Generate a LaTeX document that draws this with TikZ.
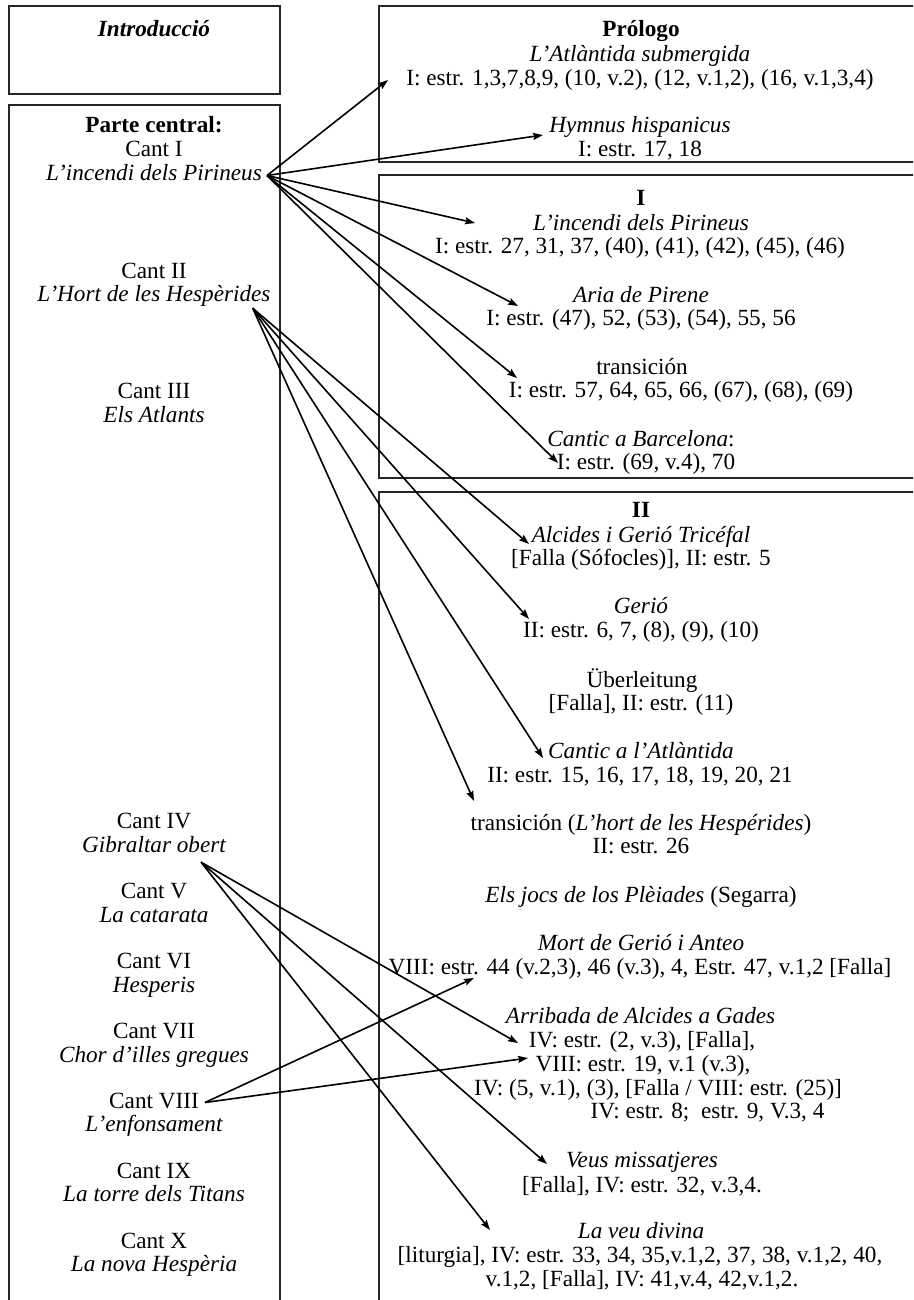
\documentclass[tikz,border=0pt]{standalone}
\usepackage{fontspec}
\setmainfont{Liberation Serif}
\usetikzlibrary{arrows.meta}
\tikzset{
  txt/.style={font=\fontsize{23.2}{24}\selectfont, inner sep=0pt, text height=16pt, text depth=5pt, anchor=base},
  itx/.style={txt, font=\fontsize{23.2}{24}\selectfont\itshape},
  bfx/.style={txt, font=\fontsize{23.2}{24}\selectfont\bfseries},
  bix/.style={txt, font=\fontsize{23.2}{24}\selectfont\bfseries\itshape},
  frame/.style={draw=black!85, line width=1.7pt, inner sep=0pt},
  arr/.style={-{Stealth[length=10pt,width=7pt,inset=1.5pt]}, line width=1.6pt, black}
}
\begin{document}
\begin{tikzpicture}[x=1pt,y=-1pt]
\useasboundingbox (0,0) rectangle (913,1300);
\clip (0,0) rectangle (913,1300);
\fill[white] (0,0) rectangle (913,1300);
% frames
\node[frame, minimum width=271pt, minimum height=88pt] (fintro) at (144.5,50) {};
\node[frame, minimum width=271pt, minimum height=1215pt] (fcentral) at (144.5,712.5) {};
\node[frame, minimum width=551pt, minimum height=156pt] (fprol) at (654.5,84) {};
\node[frame, minimum width=551pt, minimum height=303pt] (fI) at (654.5,326.5) {};
\node[frame, minimum width=551pt, minimum height=828pt] (fII) at (654.5,906) {};
% left column
\node[bix] (intro) at (154,37) {Introducció};
\node[bfx] (pc) at (154,133) {Parte central:};
\node[txt] (c1) at (154,157) {Cant I};
\node[itx] (c1t) at (154,181) {L’incendi dels Pirineus};
\node[txt] (c2) at (154,278) {Cant II};
\node[itx] (c2t) at (154,301) {L’Hort de les Hespèrides};
\node[txt] (c3) at (154,398) {Cant III};
\node[itx] (c3t) at (154,422) {Els Atlants};
\node[txt] (c4) at (154,828) {Cant IV};
\node[itx] (c4t) at (154,852) {Gibraltar obert};
\node[txt] (c5) at (154,898) {Cant V};
\node[itx] (c5t) at (154,922) {La catarata};
\node[txt] (c6) at (154,968) {Cant VI};
\node[itx] (c6t) at (154,992) {Hesperis};
\node[txt] (c7) at (154,1038) {Cant VII};
\node[itx] (c7t) at (154,1062) {Chor d’illes gregues};
\node[txt] (c8) at (154,1108) {Cant VIII};
\node[itx] (c8t) at (154,1131) {L’enfonsament};
\node[txt] (c9) at (154,1178) {Cant IX};
\node[itx] (c9t) at (154,1201) {La torre dels Titans};
\node[txt] (c10) at (154,1248) {Cant X};
\node[itx] (c10t) at (154,1271) {La nova Hespèria};
% right column: Prologo
\node[bfx] (prol) at (641,37) {Prólogo};
\node[itx] (r1a) at (640,62) {L’Atlàntida submergida};
\node[txt] (r1b) at (640,86) {I: estr. 1,3,7,8,9, (10, v.2), (12, v.1,2), (16, v.1,3,4)};
\node[itx] (r2a) at (640,133) {Hymnus hispanicus};
\node[txt] (r2b) at (640,157) {I: estr. 17, 18};
% I
\node[bfx] (hI) at (641,205) {I};
\node[itx] (r3a) at (641,230) {L’incendi dels Pirineus};
\node[txt] (r3b) at (640,253) {I: estr. 27, 31, 37, (40), (41), (42), (45), (46)};
\node[itx] (r4a) at (641,302) {Aria de Pirene};
\node[txt] (r4b) at (641,325) {I: estr. (47), 52, (53), (54), 55, 56};
\node[txt] (r5a) at (642,374) {transición};
\node[txt] (r5b) at (681,397) {I: estr. 57, 64, 65, 66, (67), (68), (69)};
\node[txt] (r6a) at (641,446) {\textit{Cantic a Barcelona}:};
\node[txt] (r6b) at (646,469) {I: estr. (69, v.4), 70};
% II
\node[bfx] (hII) at (641,517) {II};
\node[itx] (r7a) at (641,542) {Alcides i Gerió Tricéfal};
\node[txt] (r7b) at (641,565) {[Falla (Sófocles)], II: estr. 5};
\node[itx] (r8a) at (641,613) {Gerió};
\node[txt] (r8b) at (641,637) {II: estr. 6, 7, (8), (9), (10)};
\node[txt] (r9a) at (642,687) {Überleitung};
\node[txt] (r9b) at (641,710) {[Falla], II: estr. (11)};
\node[itx] (r10a) at (641,758) {Cantic a l’Atlàntida};
\node[txt] (r10b) at (640,782) {II: estr. 15, 16, 17, 18, 19, 20, 21};
\node[txt] (r11a) at (641,830) {transición (\textit{L’hort de les Hespérides})};
\node[txt] (r11b) at (641,853) {II: estr. 26};
\node[txt] (r12) at (641,902) {\textit{Els jocs de los Plèiades} (Segarra)};
\node[itx] (r13a) at (641,950) {Mort de Gerió i Anteo};
\node[txt] (r13b) at (640,974) {VIII: estr. 44 (v.2,3), 46 (v.3), 4, Estr. 47, v.1,2 [Falla]};
\node[itx] (r14a) at (640.5,1023) {Arribada de Alcides a Gades};
\node[txt] (r14b) at (642,1047) {IV: estr. (2, v.3), [Falla],};
\node[txt] (r14c) at (643,1071) {VIII: estr. 19, v.1 (v.3),};
\node[txt] (r14d) at (658,1095) {IV: (5, v.1), (3), [Falla / VIII: estr. (25)]};
\node[txt] (r14e) at (707.5,1118) {IV: estr. 8;\ \ estr. 9, V.3, 4};
\node[itx] (r15a) at (642,1167) {Veus missatjeres};
\node[txt] (r15b) at (642,1192) {[Falla], IV: estr. 32, v.3,4.};
\node[itx] (r16a) at (641,1238) {La veu divina};
\node[txt] (r16b) at (640,1262) {[liturgia], IV: estr. 33, 34, 35,v.1,2, 37, 38, v.1,2, 40,};
\node[txt] (r16c) at (642,1286) {v.1,2, [Falla], IV: 41,v.4, 42,v.1,2.};
% arrow tips
\coordinate (t1) at (388,80);
\coordinate (t2) at (543,135);
\coordinate (t3) at (475,223);
\coordinate (t4) at (518,306);
\coordinate (t5) at (517,378);
\coordinate (t6) at (558,463);
\coordinate (t7) at (529,544);
\coordinate (t8) at (529,619);
\coordinate (t9) at (543,758);
\coordinate (t10) at (474,801);
\coordinate (t11) at (518,1043);
\coordinate (t12) at (547,1164);
\coordinate (t13) at (490,1230);
\coordinate (t14) at (474,978);
\coordinate (t15) at (528,1058);
% sources
\coordinate (s1) at ([xshift=5pt]c1t.east);
\coordinate (s2) at ([xshift=-18pt,yshift=-2pt]c2t.south east);
\coordinate (s3) at ([xshift=-25pt,yshift=-5pt]c4t.south east);
\coordinate (s4) at ([xshift=6pt]c8.east);
\foreach \t in {t1,t2,t3,t4,t5,t6} \draw[arr] (s1) -- (\t);
\foreach \t in {t7,t8,t9,t10} \draw[arr] (s2) -- (\t);
\foreach \t in {t11,t12,t13} \draw[arr] (s3) -- (\t);
\foreach \t in {t14,t15} \draw[arr] (s4) -- (\t);
\end{tikzpicture}
\end{document}
